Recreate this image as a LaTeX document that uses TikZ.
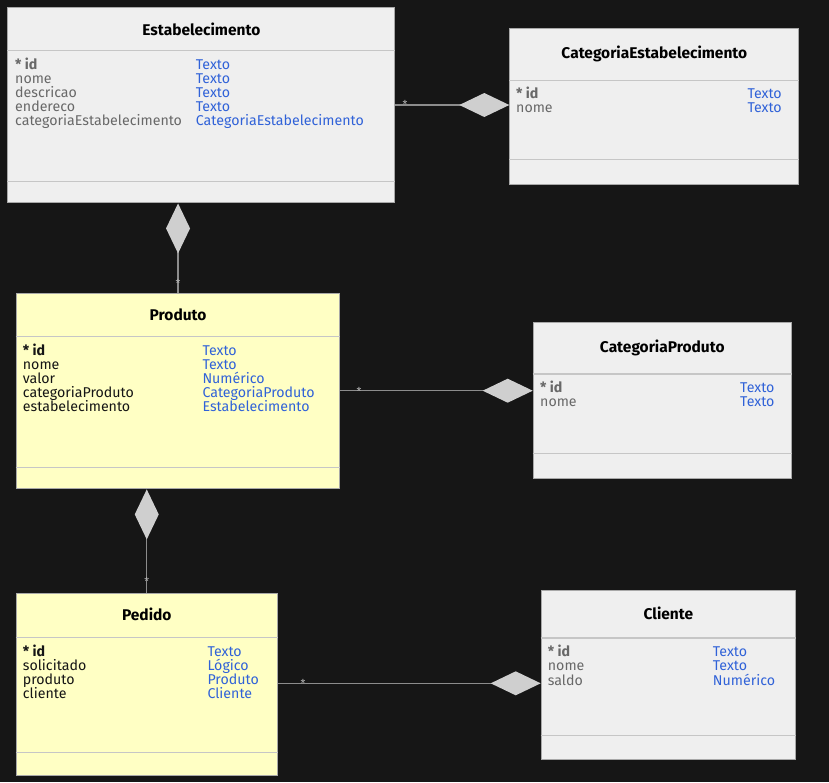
\documentclass[tikz,border=0pt]{standalone}
\usepackage{fontspec}
\setmainfont{Fira Sans}
\usetikzlibrary{arrows.meta,calc}

\definecolor{canvas}{HTML}{161616}
\definecolor{boxgray}{HTML}{EFEFEF}
\definecolor{boxyellow}{HTML}{FFFFC4}
\definecolor{boxline}{HTML}{A8A8A8}
\definecolor{sepline}{HTML}{C6C6C6}
\definecolor{fieldgray}{HTML}{686868}
\definecolor{fielddark}{HTML}{151515}
\definecolor{typeblue}{HTML}{3062D8}
\definecolor{linkgray}{HTML}{8C8C8C}
\definecolor{diamondfill}{HTML}{CFCFCF}
\definecolor{multcolor}{HTML}{B4B4B4}

\tikzset{
  classbox/.style={draw=boxline, line width=1.1pt, rectangle, inner sep=0pt, anchor=north west},
  sepline/.style={draw=sepline, line width=1.1pt},
  classtitle/.style={font=\bfseries\fontsize{15.5}{17}\selectfont, text=black, inner sep=0pt, anchor=base},
  fieldname/.style={font=\fontsize{14.2}{15}\selectfont, inner sep=0pt, anchor=base west},
  fieldtype/.style={font=\fontsize{14.2}{15}\selectfont, text=typeblue, inner sep=0pt, anchor=base west},
  aggregation/.style={draw=linkgray, line width=1.4pt,
    -{Diamond[length=50pt, width=24pt, color=diamondfill, fill=diamondfill]}},
  mult/.style={font=\fontsize{11}{11}\selectfont, text=multcolor, inner sep=0pt}
}

\begin{document}
\begin{tikzpicture}[x=1pt, y=-1pt]
  \fill[canvas] (0,0) rectangle (829,782);
  \useasboundingbox (0,0) rectangle (829,782);

  % ---- Estabelecimento ----
  \node[classbox, fill=boxgray, minimum width=387pt, minimum height=195pt] (estab) at (7.3,7.3) {};
  \draw[sepline] ($(estab.north west)+(0,43.4)$) -- ($(estab.north east)+(0,43.4)$);
  \draw[sepline] ($(estab.south west)+(0,-22)$) -- ($(estab.south east)+(0,-22)$);
  \node[classtitle] (estab-title) at ($(estab.north)+(0,27.7)$) {Estabelecimento};
  \foreach \n/\t [count=\i from 0] in {{\bfseries * id}/Texto, nome/Texto, descricao/Texto,
      endereco/Texto, categoriaEstabelecimento/CategoriaEstabelecimento} {
    \node[fieldname, text=fieldgray] (estab-n\i) at (15, 69.5+14.1*\i) {\n};
    \node[fieldtype] (estab-t\i) at (195.7, 69.5+14.1*\i) {\t};
  }

  % ---- CategoriaEstabelecimento ----
  \node[classbox, fill=boxgray, minimum width=289pt, minimum height=155.7pt] (catest) at (509.3,28.3) {};
  \draw[sepline] ($(catest.north west)+(0,52)$) -- ($(catest.north east)+(0,52)$);
  \draw[sepline] ($(catest.south west)+(0,-25.7)$) -- ($(catest.south east)+(0,-25.7)$);
  \node[classtitle] (catest-title) at ($(catest.north)+(0,30.5)$) {CategoriaEstabelecimento};
  \foreach \n/\t [count=\i from 0] in {{\bfseries * id}/Texto, nome/Texto} {
    \node[fieldname, text=fieldgray] (catest-n\i) at (516, 98.3+14.6*\i) {\n};
    \node[fieldtype] (catest-t\i) at (747.3, 98.3+14.6*\i) {\t};
  }

  % ---- Produto ----
  \node[classbox, fill=boxyellow, minimum width=323.6pt, minimum height=195pt] (produto) at (15.7,293.3) {};
  \draw[sepline] ($(produto.north west)+(0,43.4)$) -- ($(produto.north east)+(0,43.4)$);
  \draw[sepline] ($(produto.south west)+(0,-21.6)$) -- ($(produto.south east)+(0,-21.6)$);
  \node[classtitle] (produto-title) at ($(produto.north)+(0,27.4)$) {Produto};
  \foreach \n/\t [count=\i from 0] in {{\bfseries * id}/Texto, nome/Texto, valor/Numérico,
      categoriaProduto/CategoriaProduto, estabelecimento/Estabelecimento} {
    \node[fieldname, text=fielddark] (produto-n\i) at (22.7, 355+14.2*\i) {\n};
    \node[fieldtype] (produto-t\i) at (202.3, 355+14.2*\i) {\t};
  }

  % ---- CategoriaProduto ----
  \node[classbox, fill=boxgray, minimum width=258pt, minimum height=156.6pt] (catprod) at (532.7,321.7) {};
  \draw[sepline] ($(catprod.north west)+(0,52.3)$) -- ($(catprod.north east)+(0,52.3)$);
  \draw[sepline] ($(catprod.south west)+(0,-25.6)$) -- ($(catprod.south east)+(0,-25.6)$);
  \node[classtitle] (catprod-title) at ($(catprod.north)+(0,31.2)$) {CategoriaProduto};
  \foreach \n/\t [count=\i from 0] in {{\bfseries * id}/Texto, nome/Texto} {
    \node[fieldname, text=fieldgray] (catprod-n\i) at (540, 392.7+14*\i) {\n};
    \node[fieldtype] (catprod-t\i) at (740, 392.7+14*\i) {\t};
  }

  % ---- Pedido ----
  \node[classbox, fill=boxyellow, minimum width=261pt, minimum height=182pt] (pedido) at (15.7,592.7) {};
  \draw[sepline] ($(pedido.north west)+(0,45)$) -- ($(pedido.north east)+(0,45)$);
  \draw[sepline] ($(pedido.south west)+(0,-23)$) -- ($(pedido.south east)+(0,-23)$);
  \node[classtitle] (pedido-title) at ($(pedido.north)+(0,28)$) {Pedido};
  \foreach \n/\t [count=\i from 0] in {{\bfseries * id}/Texto, solicitado/Lógico,
      produto/Produto, cliente/Cliente} {
    \node[fieldname, text=fielddark] (pedido-n\i) at (22.7, 656+14.1*\i) {\n};
    \node[fieldtype] (pedido-t\i) at (207.3, 656+14.1*\i) {\t};
  }

  % ---- Cliente ----
  \node[classbox, fill=boxgray, minimum width=254.3pt, minimum height=169pt] (cliente) at (540.7,590) {};
  \draw[sepline] ($(cliente.north west)+(0,48)$) -- ($(cliente.north east)+(0,48)$);
  \draw[sepline] ($(cliente.south west)+(0,-25)$) -- ($(cliente.south east)+(0,-25)$);
  \node[classtitle] (cliente-title) at ($(cliente.north)+(0,29.3)$) {Cliente};
  \foreach \n/\t [count=\i from 0] in {{\bfseries * id}/Texto, nome/Texto, saldo/Numérico} {
    \node[fieldname, text=fieldgray] (cliente-n\i) at (547.7, 656.5+14.3*\i) {\n};
    \node[fieldtype] (cliente-t\i) at (712.7, 656.5+14.3*\i) {\t};
  }

  % ---- aggregations (diamond on the whole side) ----
  \coordinate (y-est) at (0,105);
  \coordinate (y-prod) at (0,390.7);
  \coordinate (y-ped) at (0,683.3);
  \draw[aggregation] (estab.east |- y-est) -- (catest.west |- y-est);
  \draw[aggregation] (produto.north) -- (produto.north |- estab.south);
  \draw[aggregation] (produto.east |- y-prod) -- (catprod.west |- y-prod);
  \draw[aggregation] (pedido.north) -- (pedido.north |- produto.south);
  \draw[aggregation] (pedido.east |- y-ped) -- (cliente.west |- y-ped);

  % ---- multiplicities ----
  \node[mult] (m-est) at (405,104.5) {*};
  \node[mult] (m-prod-up) at (178,283) {*};
  \node[mult] (m-prod) at (359,391) {*};
  \node[mult] (m-ped-up) at (146.7,581.6) {*};
  \node[mult] (m-ped) at (303,683) {*};
\end{tikzpicture}
\end{document}
